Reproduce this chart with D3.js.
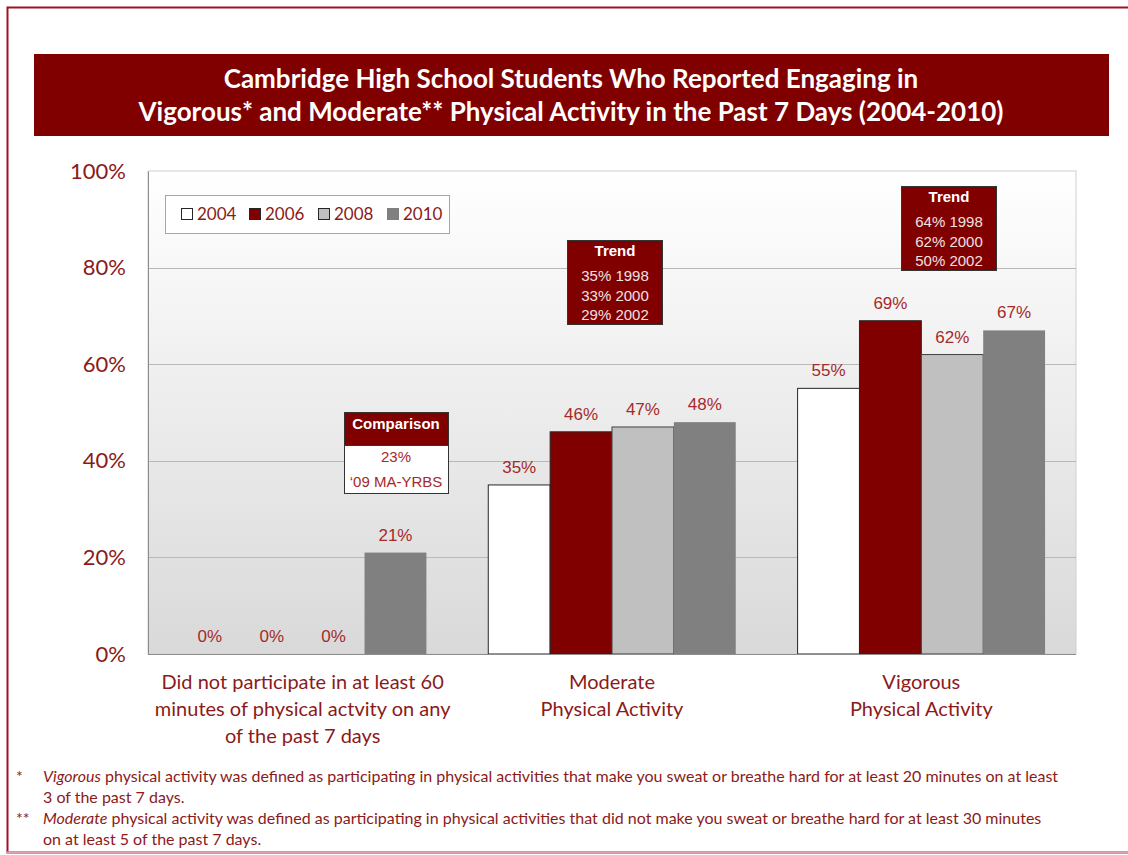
<!DOCTYPE html>
<html><head><meta charset="utf-8">
<script src="https://cdn.jsdelivr.net/npm/d3@7"></script>
<style>
html,body{margin:0;padding:0;background:#fff;}
svg{display:block;}
</style></head>
<body>
<svg id="chart" width="1128" height="855"></svg>
<script>
const categories = [
  ["Did not participate in at least 60", "minutes of physical actvity on any", "of the past 7 days"],
  ["Moderate", "Physical Activity"],
  ["Vigorous", "Physical Activity"]
];
const years = ["2004", "2006", "2008", "2010"];
const values2004 = [0, 35, 55];
const values2006 = [0, 46, 69];
const values2008 = [0, 47, 62];
const values2010 = [21, 48, 67];
const yTicks = [0, 20, 40, 60, 80, 100];
const titleLines = ["Cambridge High School Students Who Reported Engaging in",
  "Vigorous* and Moderate** Physical Activity in the Past 7 Days (2004-2010)"];
const trendModerate = ["35% 1998", "33% 2000", "29% 2002"];
const trendVigorous = ["64% 1998", "62% 2000", "50% 2002"];
const comparison = ["23%", "\u201809 MA-YRBS"];

const series = [values2004, values2006, values2008, values2010];
const fills = ["#ffffff", "#800000", "#c0c0c0", "#808080"];
const strokes = ["#262626", "#262626", "#404040", "none"];
const red = "#8b1a1a";
const labelRed = "#a52a2a";

const svg = d3.select("#chart");
const defs = svg.append("defs");
const grad = defs.append("linearGradient").attr("id","bg").attr("x1",0).attr("y1",0).attr("x2",0).attr("y2",1);
grad.append("stop").attr("offset","0%").attr("stop-color","#ffffff");
grad.append("stop").attr("offset","100%").attr("stop-color","#d9d9d9");

// outer border
svg.append("rect").attr("x",7.5).attr("y",7.5).attr("width",1130).attr("height",845)
  .attr("fill","none").attr("stroke","#a0102a").attr("stroke-width",2);
svg.append("line").attr("x1",7).attr("x2",1128).attr("y1",852.5).attr("y2",852.5)
  .attr("stroke","#e5a0b0").attr("stroke-width",2);

// title
svg.append("rect").attr("x",34).attr("y",54).attr("width",1075).attr("height",82).attr("fill","#800000");
svg.selectAll("text.title").data(titleLines).join("text")
  .attr("x",571).attr("y",(d,i)=>88+i*33).attr("text-anchor","middle")
  .attr("font-family","Lato, 'Open Sans', sans-serif").attr("font-weight","bold")
  .attr("font-size",26).attr("fill","#fff").text(d=>d);

const m = {left:148, right:1076, top:171, bottom:654};
const xGroup = d3.scaleBand().domain(d3.range(categories.length)).range([m.left,m.right]);
const x1 = d3.scaleBand().domain(years).range([0, xGroup.bandwidth()*0.8]);
const y = d3.scaleLinear().domain([0,100]).range([m.bottom,m.top]);

// plot bg
svg.append("rect").attr("x",m.left).attr("y",m.top).attr("width",m.right-m.left).attr("height",m.bottom-m.top)
  .attr("fill","url(#bg)").attr("stroke","#d0d0d0").attr("stroke-width",1);

// gridlines
svg.append("g").selectAll("line").data(yTicks.slice(1,-1)).join("line")
  .attr("x1",m.left).attr("x2",m.right).attr("y1",d=>Math.round(y(d))+0.5).attr("y2",d=>Math.round(y(d))+0.5)
  .attr("stroke","#b8b8b8").attr("stroke-width",1);

// y axis
const yAxis = d3.axisLeft(y).tickValues(yTicks).tickFormat(d=>d+"%").tickSize(0).tickPadding(22);
const ga = svg.append("g").attr("transform",`translate(${m.left},0)`).call(yAxis);
ga.select(".domain").attr("stroke","#8c8c8c");
ga.selectAll("text").attr("font-family","Lato, 'Open Sans', sans-serif").attr("font-size",22).attr("fill",red);

// bars
const gx = (i)=> xGroup(i) + xGroup.bandwidth()*0.1;
const groups = svg.append("g").selectAll("g").data(categories).join("g")
  .attr("transform",(d,i)=>`translate(${gx(i)},0)`);
groups.each(function(c,ci){
  const g = d3.select(this);
  years.forEach((yr,si)=>{
    const v = series[si][ci];
    if (v>0){
      g.append("rect").attr("x",x1(yr)).attr("y",y(v)).attr("width",x1.bandwidth()).attr("height",y(0)-y(v))
        .attr("fill",fills[si]).attr("stroke",strokes[si]).attr("stroke-width",1);
    }
    g.append("text").attr("x",x1(yr)+x1.bandwidth()/2).attr("y",y(v)-12)
      .attr("text-anchor","middle").attr("font-family","'Liberation Sans', Arial, sans-serif")
      .attr("font-size",17).attr("fill",labelRed).text(v+"%");
  });
});

// x axis baseline
svg.append("line").attr("x1",m.left).attr("x2",m.right).attr("y1",m.bottom+0.5).attr("y2",m.bottom+0.5).attr("stroke","#8c8c8c");

// category labels
categories.forEach((lines,ci)=>{
  svg.append("g").selectAll("text").data(lines).join("text")
    .attr("x",xGroup(ci)+xGroup.bandwidth()/2).attr("y",(d,i)=>689+i*27)
    .attr("text-anchor","middle").attr("font-family","Lato, 'Open Sans', sans-serif")
    .attr("font-size",20).attr("fill",red).text(d=>d);
});

// legend
const lg = svg.append("g");
lg.append("rect").attr("x",165.5).attr("y",195.5).attr("width",284).attr("height",38).attr("fill","#fff").attr("stroke","#a6a6a6");
const lx = [181, 249, 318, 387];
years.forEach((yr,i)=>{
  lg.append("rect").attr("x",lx[i]+0.5).attr("y",208.5).attr("width",11).attr("height",11)
    .attr("fill",fills[i]).attr("stroke",i===3?"#808080":"#262626");
  lg.append("text").attr("x",lx[i]+16).attr("y",220).attr("font-family","Lato, 'Open Sans', sans-serif")
    .attr("font-size",17).attr("fill",red).text(yr);
});

// trend boxes
function trendBox(x, yTop, lines){
  const g = svg.append("g");
  g.append("rect").attr("x",x+0.5).attr("y",yTop+0.5).attr("width",95).attr("height",84).attr("fill","#800000").attr("stroke","#333");
  g.append("text").attr("x",x+48).attr("y",yTop+16).attr("text-anchor","middle").attr("font-family","'Liberation Sans', Arial, sans-serif")
    .attr("font-weight","bold").attr("font-size",15).attr("fill","#fff").text("Trend");
  g.selectAll("text.l").data(lines).join("text").attr("class","l").attr("x",x+48).attr("y",(d,i)=>yTop+41+i*19.5)
    .attr("text-anchor","middle").attr("font-family","'Liberation Sans', Arial, sans-serif")
    .attr("font-size",15).attr("fill","#f0e0e0").text(d=>d);
}
trendBox(567, 240, trendModerate);
trendBox(901, 186, trendVigorous);

// comparison box
const cb = svg.append("g");
cb.append("rect").attr("x",344.5).attr("y",412.5).attr("width",104).attr("height",81).attr("fill","#fff").attr("stroke","#333");
cb.append("rect").attr("x",344.5).attr("y",412.5).attr("width",104).attr("height",33).attr("fill","#800000").attr("stroke","#333");
cb.append("text").attr("x",396).attr("y",429).attr("text-anchor","middle").attr("font-family","'Liberation Sans', Arial, sans-serif")
  .attr("font-weight","bold").attr("font-size",15).attr("fill","#fff").text("Comparison");
cb.selectAll("text.c").data(comparison).join("text").attr("class","c").attr("x",396).attr("y",(d,i)=>462+i*25)
  .attr("text-anchor","middle").attr("font-family","'Liberation Sans', Arial, sans-serif")
  .attr("font-size",15).attr("fill",labelRed).text(d=>d);

// footnotes
const fn = svg.append("g").attr("font-family","Lato, 'Open Sans', sans-serif").attr("font-size",16).attr("fill",red);
fn.append("text").attr("x",16).attr("y",782).text("*");
fn.append("text").attr("x",16).attr("y",824).text("**");
const t1 = fn.append("text").attr("x",43).attr("y",782);
t1.append("tspan").attr("font-style","italic").text("Vigorous");
t1.append("tspan").text(" physical activity was defined as participating in physical activities that make you sweat or breathe hard for at least 20 minutes on at least");
fn.append("text").attr("x",43).attr("y",803).text("3 of the past 7 days.");
const t2 = fn.append("text").attr("x",43).attr("y",824);
t2.append("tspan").attr("font-style","italic").text("Moderate");
t2.append("tspan").text(" physical activity was defined as participating in physical activities that did not make you sweat or breathe hard for at least 30 minutes");
fn.append("text").attr("x",43).attr("y",845).text("on at least 5 of the past 7 days.");
</script>
</body></html>
